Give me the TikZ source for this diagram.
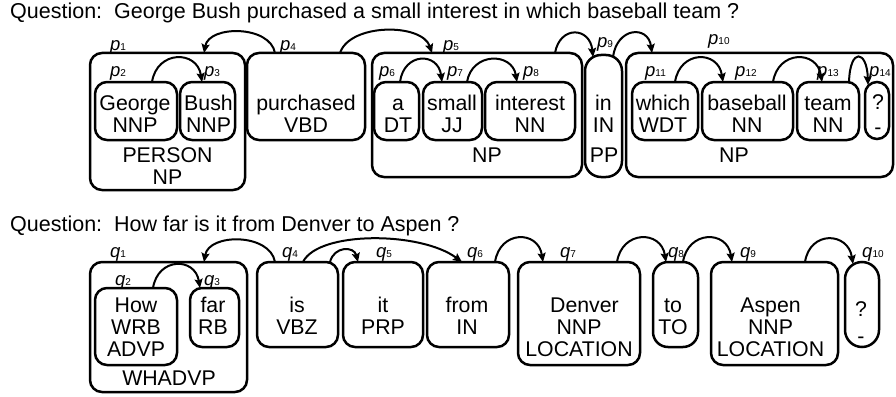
\documentclass[tikz,border=0pt]{standalone}
\usepackage{fontspec}
\setmainfont{Liberation Sans}
\usetikzlibrary{arrows.meta}
\frenchspacing
\newcommand\taglab[2]{{\fontsize{18.5}{18.5}\selectfont\itshape #1}{\fontsize{10}{10}\selectfont #2}}
\newcommand\stk[1]{\begin{tabular}[t]{@{}c@{}}#1\end{tabular}}
\begin{document}
\begin{tikzpicture}[x=1pt,y=-1pt,
  box/.style={draw, line width=2.5pt, rounded corners=12pt, inner sep=0pt, outer sep=0pt, anchor=north west},
  words/.style={font=\fontsize{21.3}{22}\selectfont, inner sep=0pt, anchor=base},
  qline/.style={font=\fontsize{21.5}{24}\selectfont, inner sep=0pt, anchor=base west},
  tagname/.style={inner sep=0pt, anchor=base west},
  link/.style={line width=2pt, -{Stealth[length=9pt,width=8pt,inset=1.5pt]}}]
\useasboundingbox (0,0) rectangle (896,396);

% ---------- questions
\node[qline] (ques1) at (10,18.5) {Question:~~George Bush purchased a small interest in which baseball team ?};
\node[qline] (ques2) at (10,231) {Question:~~How far is it from Denver to Aspen ?};

% ---------- row 1 boxes
\node[box, minimum width=155pt, minimum height=137pt] (P1) at (90,53) {};
\node[box, minimum width=82pt, minimum height=58pt] (george) at (95,82) {};
\node[box, minimum width=55pt, minimum height=58pt] (bush) at (180,82) {};
\node[box, minimum width=118pt, minimum height=87pt] (purch) at (247,53) {};
\node[box, minimum width=210pt, minimum height=124pt] (P5) at (372,53) {};
\node[box, minimum width=45pt, minimum height=58pt] (adt) at (374,82) {};
\node[box, minimum width=59pt, minimum height=58pt] (small) at (423,82) {};
\node[box, minimum width=90pt, minimum height=58pt] (interest) at (485,82) {};
\node[box, rounded corners=16pt, minimum width=37pt, minimum height=122pt] (inpp) at (585,55) {};
\node[box, minimum width=267pt, minimum height=124pt] (P10) at (626,53) {};
\node[box, minimum width=66pt, minimum height=58pt] (which) at (632,82) {};
\node[box, minimum width=91pt, minimum height=58pt] (baseball) at (702,82) {};
\node[box, minimum width=62pt, minimum height=58pt] (team) at (797,82) {};
\node[box, rounded corners=12pt, minimum width=24pt, minimum height=57pt] (qm1) at (865,82) {};

% ---------- row 1 texts
\node[words] (t-george) at (135,110) {\stk{George\\NNP}};
\node[words] (t-bush) at (208.5,110) {\stk{Bush\\NNP}};
\node[words] (t-person) at (167.5,162) {\stk{PERSON\\NP}};
\node[words] (t-purch) at (306,110) {\stk{purchased\\VBD}};
\node[words] (t-a) at (398,110) {\stk{a\\DT}};
\node[words] (t-small) at (452,110) {\stk{small\\JJ}};
\node[words] (t-interest) at (530,110) {\stk{interest\\NN}};
\node[words] (t-np5) at (487,162) {NP};
\node[words] (t-in) at (603.5,110) {\stk{in\\IN}};
\node[words] (t-pp) at (604,162) {PP};
\node[words] (t-which) at (663,110) {\stk{which\\WDT}};
\node[words] (t-baseball) at (747,110) {\stk{baseball\\NN}};
\node[words] (t-team) at (828,110) {\stk{team\\NN}};
\node[words] (t-np10) at (734,162) {NP};
\node[words] (t-qm1) at (878,109) {?};
\node[words] (t-dash1) at (878,134) {-};

% ---------- row 1 tags
\node[tagname] (p1) at (110,51) {\taglab{p}{1}};
\node[tagname] (p2) at (110,77) {\taglab{p}{2}};
\node[tagname] (p3) at (204,77) {\taglab{p}{3}};
\node[tagname] (p4) at (280,51) {\taglab{p}{4}};
\node[tagname] (p5) at (443,51) {\taglab{p}{5}};
\node[tagname] (p6) at (379,77) {\taglab{p}{6}};
\node[tagname] (p7) at (447,77) {\taglab{p}{7}};
\node[tagname] (p8) at (523,77) {\taglab{p}{8}};
\node[tagname] (p9) at (597,48) {\taglab{p}{9}};
\node[tagname] (p10) at (708,45) {\taglab{p}{10}};
\node[tagname] (p11) at (645,77) {\taglab{p}{11}};
\node[tagname] (p12) at (735,77) {\taglab{p}{12}};
\node[tagname] (p13) at (817,77) {\taglab{p}{13}};
\node[tagname] (p14) at (869,77) {\taglab{p}{14}};

% ---------- row 1 links
\draw[link] ([xshift=28pt]purch.north west) .. controls +(-5,-28) and +(5,-28) .. ([xshift=114pt]P1.north west);
\draw[link] ([xshift=93pt]purch.north west) .. controls +(10,-30) and +(-10,-30) .. ([xshift=60pt]P5.north west);
\draw[link] ([xshift=57pt]george.north west) .. controls +(5,-32) and +(-5,-32) .. ([xshift=22pt]bush.north west);
\draw[link] ([xshift=26pt]adt.north west) .. controls +(4,-30) and +(-4,-30) .. ([xshift=19pt]small.north west);
\draw[link] ([xshift=44pt]small.north west) .. controls +(5,-30) and +(-5,-30) .. ([xshift=32pt]interest.north west);
\draw[link] ([xshift=183pt]P5.north west) .. controls +(5,-28) and +(-3,-30) .. ([xshift=8pt,yshift=-2pt]inpp.north west);
\draw[link] ([xshift=28pt,yshift=-2pt]inpp.north west) .. controls +(4,-30) and +(-4,-28) .. ([xshift=26pt]P10.north west);
\draw[link] ([xshift=43pt]which.north west) .. controls +(5,-32) and +(-5,-32) .. ([xshift=21pt]baseball.north west);
\draw[link] ([xshift=71pt]baseball.north west) .. controls +(5,-32) and +(-5,-32) .. ([xshift=25pt]team.north west);
\draw[link] ([xshift=52pt]team.north west) .. controls +(1,-35) and +(-1,-35) .. ([xshift=3pt,yshift=-3pt]qm1.north west);

% ---------- row 2 boxes
\node[box, minimum width=157pt, minimum height=130pt] (Q1) at (90,262) {};
\node[box, minimum width=82pt, minimum height=77pt] (how) at (95,288) {};
\node[box, minimum width=49pt, minimum height=59pt] (far) at (190,288) {};
\node[box, minimum width=81pt, minimum height=85pt] (is) at (257,262) {};
\node[box, minimum width=80pt, minimum height=85pt] (it) at (343,262) {};
\node[box, minimum width=82pt, minimum height=85pt] (from) at (427,262) {};
\node[box, minimum width=122pt, minimum height=103pt] (denver) at (518,262) {};
\node[box, rounded corners=15pt, minimum width=45pt, minimum height=85pt] (to) at (653,262) {};
\node[box, minimum width=127pt, minimum height=103pt] (aspen) at (711,262) {};
\node[box, rounded corners=17pt, minimum width=34pt, minimum height=85pt] (qm2) at (845,262) {};

% ---------- row 2 texts
\node[words] (t-how) at (136,312) {\stk{How\\WRB\\ADVP}};
\node[words] (t-whadvp) at (169,385) {WHADVP};
\node[words] (t-far) at (213,312) {\stk{far\\RB}};
\node[words] (t-is) at (297,312) {\stk{is\\VBZ}};
\node[words] (t-it) at (383,312) {\stk{it\\PRP}};
\node[words] (t-from) at (467,312) {\stk{from\\IN}};
\node[words] (t-denver) at (579,312) {\stk{\hspace{11pt}Denver\\NNP\\LOCATION}};
\node[words] (t-to) at (673,312) {\stk{to\\TO}};
\node[words] (t-aspen) at (770.5,312) {\stk{Aspen\\NNP\\LOCATION}};
\node[words] (t-qm2) at (861,316) {?};
\node[words] (t-dash2) at (861,343) {-};

% ---------- row 2 tags
\node[tagname] (q1) at (110,257) {\taglab{q}{1}};
\node[tagname] (q2) at (115,285) {\taglab{q}{2}};
\node[tagname] (q3) at (204,285) {\taglab{q}{3}};
\node[tagname] (q4) at (282,257) {\taglab{q}{4}};
\node[tagname] (q5) at (376,257) {\taglab{q}{5}};
\node[tagname] (q6) at (467,257) {\taglab{q}{6}};
\node[tagname] (q7) at (560,257) {\taglab{q}{7}};
\node[tagname] (q8) at (668,257) {\taglab{q}{8}};
\node[tagname] (q9) at (740,257) {\taglab{q}{9}};
\node[tagname] (q10) at (862,257) {\taglab{q}{10}};

% ---------- row 2 links
\draw[link] ([xshift=18pt]is.north west) .. controls +(-5,-29) and +(5,-29) .. ([xshift=114pt]Q1.north west);
\draw[link] ([xshift=58pt]how.north west) .. controls +(5,-31) and +(-5,-31) .. ([xshift=10pt]far.north west);
\draw[link] ([xshift=46pt]is.north west) .. controls +(15,-31) and +(-42,-31) .. ([xshift=35pt]from.north west);
\draw[link] ([xshift=73pt]is.north west) .. controls +(4,-16) and +(-4,-16) .. ([xshift=15pt]it.north west);
\draw[link] ([xshift=68pt]from.north west) .. controls +(5,-32) and +(-5,-32) .. ([xshift=25pt]denver.north west);
\draw[link] ([xshift=99pt]denver.north west) .. controls +(5,-32) and +(-5,-32) .. ([xshift=13pt]to.north west);
\draw[link] ([xshift=30pt]to.north west) .. controls +(5,-32) and +(-5,-32) .. ([xshift=21pt]aspen.north west);
\draw[link] ([xshift=94pt]aspen.north west) .. controls +(5,-32) and +(-5,-32) .. ([xshift=8pt,yshift=-2pt]qm2.north west);
\end{tikzpicture}
\end{document}
